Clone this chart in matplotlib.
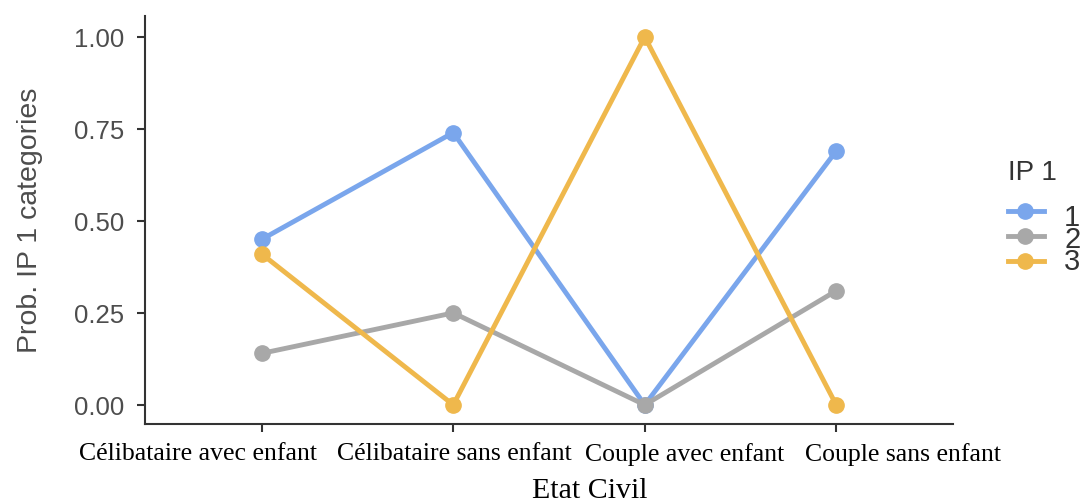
import matplotlib
matplotlib.use("Agg")
import matplotlib.pyplot as plt
from matplotlib.lines import Line2D
from matplotlib.transforms import ScaledTranslation

categories = ["Célibataire avec enfant", "Célibataire sans enfant", "Couple avec enfant", "Couple sans enfant"]
series_names = ["1", "2", "3"]
s1 = [0.45, 0.74, 0.0, 0.69]
s2 = [0.14, 0.25, 0.0, 0.31]
s3 = [0.41, 0.0, 1.0, 0.0]
colors = ["#7AA6EC", "#A8A8A8", "#EFB84C"]
yticks = [0.0, 0.25, 0.5, 0.75, 1.0]
ytick_labels = ["0.00", "0.25", "0.50", "0.75", "1.00"]

W, H = 1089, 502
fig = plt.figure(figsize=(W / 100, H / 100), dpi=100)
ax = fig.add_axes([145 / W, 1 - 425 / H, 808 / W, 408 / H])

x = list(range(len(categories)))
for vals, c in zip([s1, s2, s3], colors):
    ax.plot(x, vals, color=c, lw=3.5, marker="o", ms=11, solid_capstyle="round")

ax.set_xlim(-0.61, 3.61)
ax.set_ylim(-0.052, 1.057)
ax.set_xticks(x)
ax.set_xticklabels(categories, family="Liberation Serif", fontsize=18.5, color="black")
ax.set_yticks(yticks)
ax.set_yticklabels(ytick_labels, family="Liberation Sans", fontsize=18.5, color="#4D4D4D")
for s in ["top", "right"]:
    ax.spines[s].set_visible(False)
for s in ["left", "bottom"]:
    ax.spines[s].set_color("#333333")
    ax.spines[s].set_linewidth(1.5)
ax.tick_params(axis="both", length=6, width=1.5, color="#333333")
ax.tick_params(axis="x", pad=7)
ax.tick_params(axis="y", pad=9)

# tick labels in the reference are not centred on their ticks
offsets_px = [-64, 1, 40, 67]
for lab, dx in zip(ax.get_xticklabels(), offsets_px):
    lab.set_transform(lab.get_transform() + ScaledTranslation(dx / 100, 0, fig.dpi_scale_trans))

ax.set_xlabel("Etat Civil", family="Liberation Serif", fontsize=21.5, color="black")
ax.xaxis.set_label_coords((590 - 145) / 808, -(498 - 425) / 408)
ax.xaxis.label.set_va("baseline")
ax.set_ylabel("Prob. IP 1 categories", family="Liberation Sans", fontsize=20.5, color="#4D4D4D")
ax.yaxis.set_label_coords((30 - 145) / 808, (425 - 220) / 408)
ax.yaxis.label.set_va("center")

# legend drawn manually in figure pixel positions
def fx(px):
    return px / W

def fy(py):
    return 1 - py / H

fig.text(fx(1008), fy(180), "IP 1", family="Liberation Sans", fontsize=20,
         color="#333333", ha="left", va="baseline")
key_y = [212, 237, 262]
for c, ky in zip(colors, key_y):
    fig.add_artist(Line2D([fx(1008), fx(1044)], [fy(ky), fy(ky)], color=c, lw=3.5,
                          transform=fig.transFigure))
    fig.add_artist(Line2D([fx(1025)], [fy(ky)], color=c, marker="o", ms=11,
                          transform=fig.transFigure))
fig.text(fx(1064), fy(240), "\n".join(series_names), family="Liberation Sans", fontsize=21,
         color="#333333", ha="left", va="center", linespacing=0.74)

fig.savefig("out.png", dpi=100)
